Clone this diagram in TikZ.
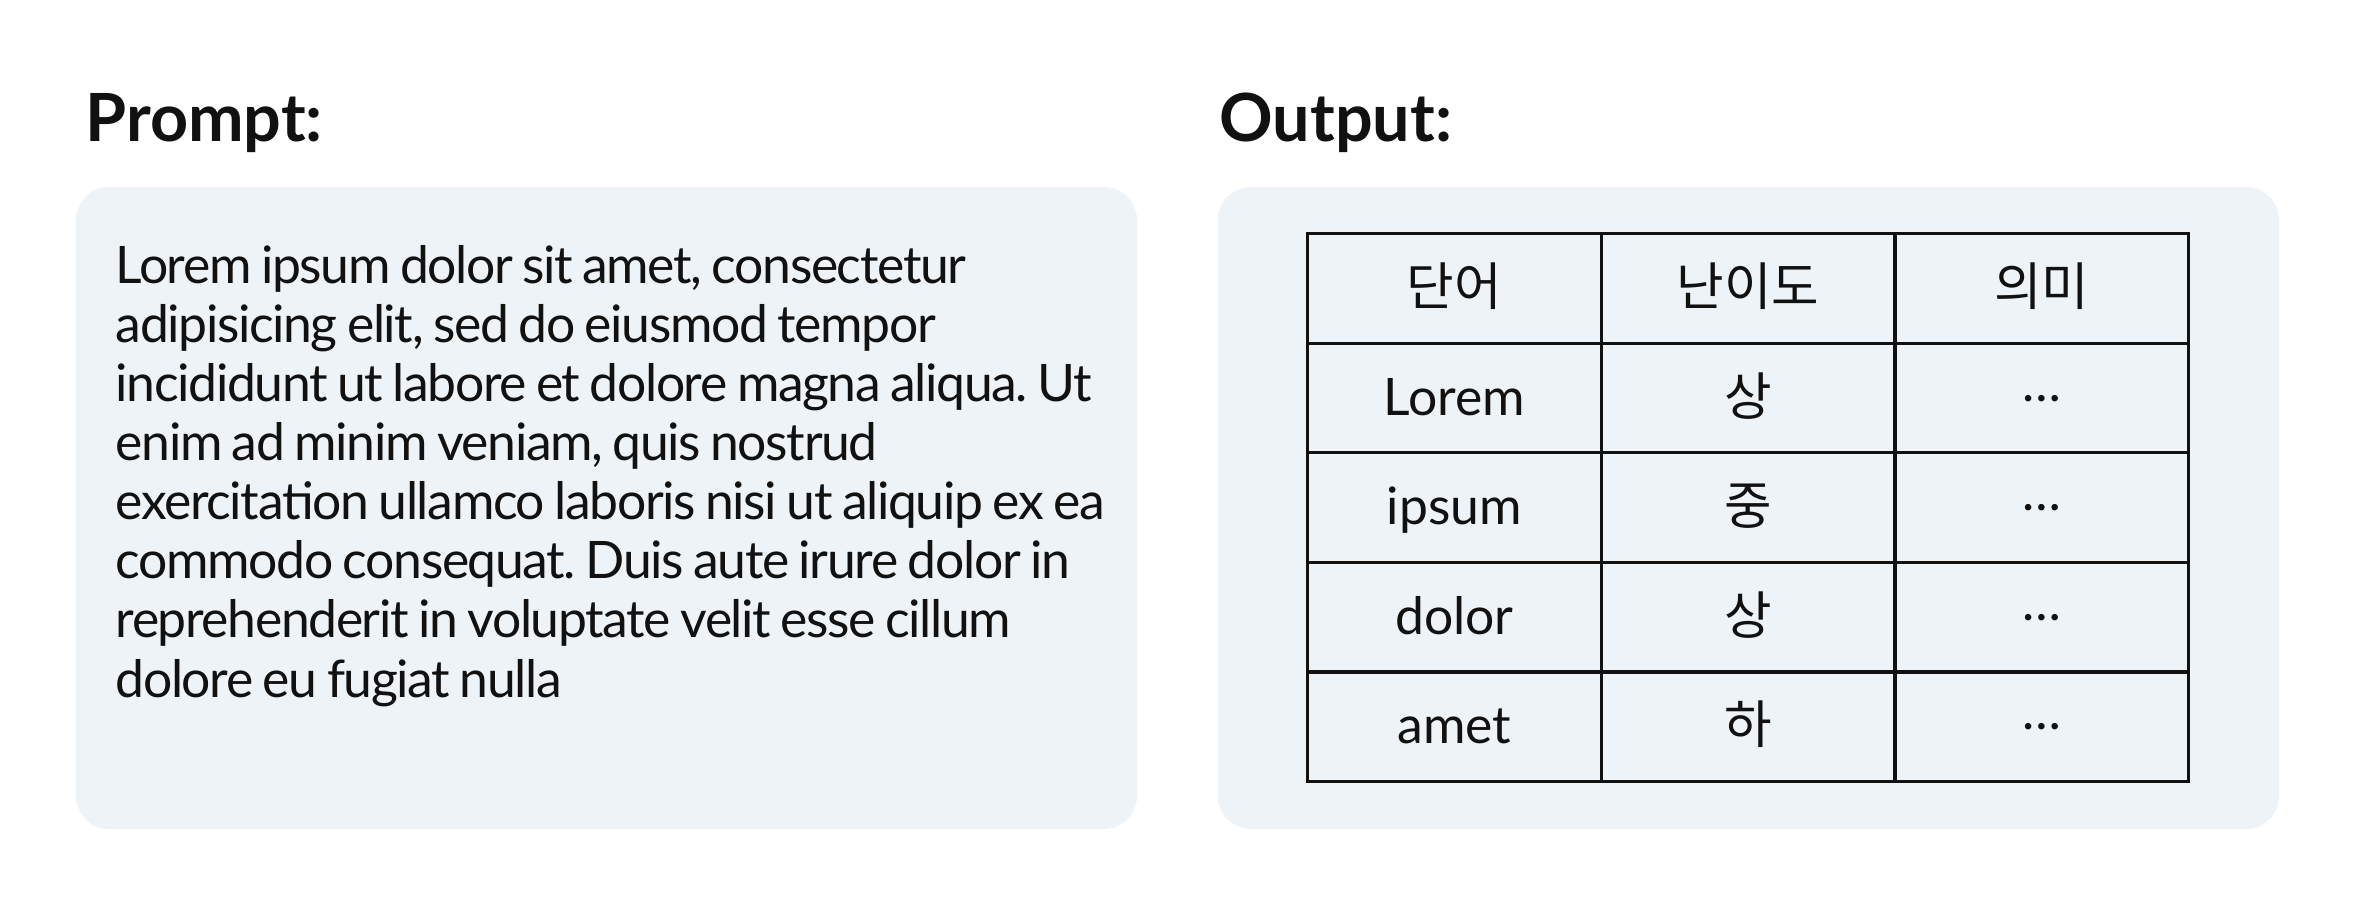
\documentclass[tikz,border=0pt]{standalone}
\usepackage{fontspec}
\setmainfont{Lato}
\newfontfamily\kr{Noto Sans CJK KR}
\newfontfamily\tightfont[LetterSpace=-2.7, WordSpace=0.8]{Lato}
\usetikzlibrary{matrix}
\definecolor{panelbg}{RGB}{237,243,247}
\definecolor{ink}{RGB}{17,17,17}
\newcommand{\more}{\raisebox{0.27em}{…}}
\tikzset{
    panel/.style={fill=panelbg, rounded corners=0.33cm, inner sep=0, outer sep=0,
        minimum width=10.61cm, minimum height=6.42cm, anchor=north west},
    heading/.style={anchor=base west, inner sep=0, text=ink,
        font=\bfseries\fontsize{18.9}{20}\selectfont},
    body/.style={anchor=base west, inner sep=0, align=left, text=ink,
        font=\tightfont\frenchspacing\fontsize{14.7}{16.8}\selectfont},
}

\begin{document}
\begin{tikzpicture}
    \useasboundingbox (0,0) rectangle (23.54,-9.18);

    % panels
    \node[panel] (promptbox) at (0.76,-1.87) {};
    \node[panel] (outputbox) at (12.18,-1.87) {};

    \node[heading] (prompthead) at (0.85,-1.42) {Prompt:};
    \node[heading] (outputhead) at (12.19,-1.42) {Output:};

    % base anchor sits on the last line
    \node[body] (prompttext) at (1.15,-6.97) {%
        Lorem ipsum dolor sit amet, consectetur\\
        adipisicing elit, sed do eiusmod tempor\\
        incididunt ut labore et dolore magna aliqua. Ut\\
        enim ad minim veniam, quis nostrud\\
        exercitation ullamco laboris nisi ut aliquip ex ea\\
        commodo consequat. Duis aute irure dolor in\\
        reprehenderit in voluptate velit esse cillum\\
        dolore eu fugiat nulla};

    % table
    \matrix (words) [matrix of nodes, anchor=north west, inner sep=0, outer sep=0,
        column sep=-0.032cm, row sep=-0.032cm,
        nodes={rectangle, draw=ink, line width=0.032cm, text=ink,
            minimum width=2.937cm, minimum height=1.096cm, inner sep=0, outer sep=0,
            text height=0.45cm, text depth=0.11cm, anchor=center,
            font=\fontsize{14.7}{16.8}\selectfont}] at (13.06,-2.32) {
        {\kr 단어} & {\kr 난이도} & {\kr 의미} \\
        Lorem & {\kr 상} & \more \\
        ipsum & {\kr 중} & \more \\
        dolor & {\kr 상} & \more \\
        amet & {\kr 하} & \more \\
    };
\end{tikzpicture}
\end{document}
